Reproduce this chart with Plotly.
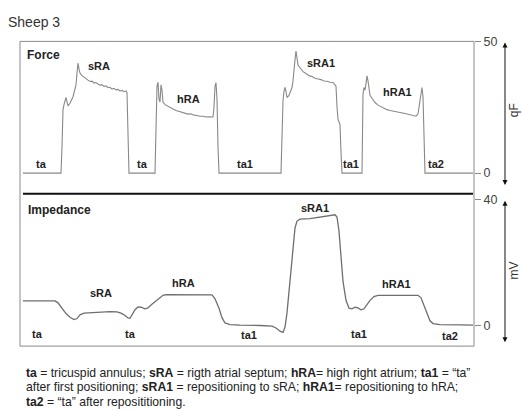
import plotly.graph_objects as go

W, H = 522, 411

# ---------------- data (time in arbitrary units) ----------------
force_time = [3, 41, 42, 43, 44, 46, 48, 50, 53, 55, 56, 57, 58, 59, 60, 62, 65, 68, 70, 72, 74, 76, 78, 80,
              82, 84, 86, 88, 90, 92, 94, 96, 98, 100, 102, 104, 106, 107, 108, 109,
              135, 136, 137, 138, 139, 140, 141, 142, 143, 145, 148, 150, 153, 156, 159, 162, 165, 168, 171,
              174, 177, 180, 183, 186, 189, 192, 193, 194, 195, 196, 197, 198, 199,
              261, 262, 263, 264, 265, 266, 267, 269, 271, 272, 273, 274, 275, 276, 277, 278, 280, 283, 286,
              289, 292, 295, 298, 301, 304, 307, 310, 313, 315, 316, 317, 318, 319, 320, 321, 322,
              342, 343, 344, 345, 346, 347, 348, 349, 350, 352, 355, 358, 361, 364, 367, 370, 373, 376, 380,
              384, 388, 392, 396, 398, 400, 401, 402, 403, 404, 405, 453]
force_qF = [0, 0, 10, 24, 26, 28.7, 25.5, 26.5, 29, 32, 33.5, 38, 41.8, 39.5, 38, 37, 36, 35.3, 34.8, 34.9,
            34.2, 34.4, 33.8, 33.4, 33.6, 32.9, 33.1, 32.4, 32.6, 31.9, 32.2, 31.6, 31.8, 31.2, 31.4, 30.9,
            31.2, 30.6, 15, 0,
            0, 14, 33, 34.5, 28, 27, 33.5, 31.5, 27, 26, 25.3, 24.8, 24.3, 23.8, 23.5, 23.0, 22.9, 22.4,
            22.5, 22.0, 21.9, 21.6, 21.6, 21.3, 21.4, 21.2, 21.3, 25, 33, 34.3, 28, 10, 0,
            0, 15, 27.5, 31, 32.5, 31, 28.7, 29.5, 31.5, 32.5, 35, 38, 43, 46.3, 43, 41, 40, 38.5, 37.8,
            37.0, 36.7, 36.0, 35.7, 35.5, 35.0, 34.9, 34.5, 34.4, 33.5, 33.0, 25, 20.5, 19.5, 18.3, 8, 0,
            0, 30, 32.5, 31.5, 34, 36.9, 35, 31.5, 29.5, 28.4, 26.8, 25.8, 25.2, 24.6, 24.1, 23.8, 23.5,
            23.3, 23.0, 22.7, 22.4, 22.0, 21.6, 22.5, 28, 31, 32.5, 29, 18, 0, 0]

imp_time = [3, 35, 38, 42, 46, 50, 54, 57, 60, 64, 70, 80, 90, 97, 101, 105, 108, 110, 112, 115, 118,
            121, 125, 128, 131, 135, 139, 143, 146, 160, 180, 192, 195, 199, 202, 205, 210, 220, 240,
            252, 256, 260, 263, 265, 267, 269, 271, 273, 275, 277, 280, 290, 300, 310, 315, 317, 319,
            321, 323, 326, 329, 332, 335, 338, 341, 344, 347, 350, 354, 358, 370, 385, 398, 401, 404,
            407, 410, 413, 420, 440, 453]
imp_mV = [7.8, 7.8, 7.2, 5.5, 3.8, 2.6, 1.9, 2.2, 3.4, 3.9, 4.0, 4.3, 4.4, 4.3, 3.9, 3.2, 2.4, 2.3, 3.5,
          5.0, 5.9, 5.8, 5.3, 5.6, 6.5, 7.6, 8.8, 9.6, 9.8, 9.8, 9.8, 9.7, 8.5, 5.5, 2.5, 0.8, 0.3, 0.1,
          0.0, -0.2, -0.8, -1.8, -2.2, -0.5, 4, 11, 19, 26, 31, 33.2, 33.8, 34.0, 34.4, 34.9, 35.2, 34.5,
          30, 22, 14, 8, 5.5, 5.3, 5.8, 5.6, 5.0, 5.3, 6.5, 8.0, 9.2, 9.6, 9.6, 9.6, 9.6, 8.8, 6.5, 3.8,
          1.5, 0.6, 0.3, 0.2, 0.1]

force_ticks = [0, 50]
imp_ticks = [0, 40]

force_labels = ["sRA", "hRA", "sRA1", "hRA1", "ta", "ta", "ta1", "ta1", "ta2"]
imp_labels = ["sRA", "hRA", "sRA1", "hRA1", "ta", "ta", "ta1", "ta1", "ta2"]

caption = [
    "<b>ta</b> = tricuspid annulus; <b>sRA</b> = rigth atrial septum; <b>hRA</b>= high right atrium; <b>ta1</b> = \u201cta\u201d",
    "after first positioning; <b>sRA1</b> = repositioning to sRA; <b>hRA1</b>= repositioning to hRA;",
    "<b>ta2</b> = \u201cta\u201d after reposititioning.",
]

# ---------------- layout helpers ----------------
def px(x):
    return x / W


def py(y):
    return 1 - y / H


FONT = "Liberation Sans, Arial, sans-serif"
LINE = "#8a8a8a"

fig = go.Figure()
fig.add_trace(go.Scatter(x=force_time, y=force_qF, mode="lines",
                         line=dict(color="#888888", width=1.1), xaxis="x", yaxis="y",
                         hoverinfo="skip", showlegend=False))
fig.add_trace(go.Scatter(x=imp_time, y=imp_mV, mode="lines",
                         line=dict(color="#6e6e6e", width=1.3), xaxis="x", yaxis="y2",
                         hoverinfo="skip", showlegend=False))

# Force axis: 0 at y=169px, 50 at y=35px  (2.68 px/unit), domain 35..185 px
f_lo = 0 - (185 - 169) / 2.68
# Impedance axis: 0 at 324px, 40 at 196px (3.2 px/unit), domain 192..345 px
i_lo = 0 - (345 - 324) / 3.2
i_hi = 40 + (196 - 192) / 3.2

axis_common = dict(side="right", anchor="x", showgrid=False, zeroline=False, showline=False,
                   ticks="outside", ticklen=6, tickcolor=LINE, tickwidth=1,
                   tickfont=dict(family=FONT, size=12.5, color="#444"), fixedrange=True)

fig.update_layout(
    width=W, height=H, margin=dict(l=0, r=0, t=0, b=0),
    paper_bgcolor="white", plot_bgcolor="rgba(0,0,0,0)",
    xaxis=dict(domain=[px(20), px(474)], range=[0, 454], visible=False, fixedrange=True),
    yaxis=dict(domain=[py(185), py(35)], range=[f_lo, 50], tickvals=force_ticks, **axis_common),
    yaxis2=dict(domain=[py(345), py(192)], range=[i_lo, i_hi], tickvals=imp_ticks, **axis_common),
)

shapes = [
    dict(type="rect", xref="paper", yref="paper", x0=px(20), x1=px(474), y0=py(345), y1=py(35),
         line=dict(color=LINE, width=1)),
    dict(type="line", xref="paper", yref="paper", x0=px(23), x1=px(473), y0=py(190), y1=py(190),
         line=dict(color="#111", width=2.2)),
]
fig.update_layout(shapes=shapes)

ann = []


def label(text, x, y, size=11, bold=True, xanchor="center", color="#222", textangle=0):
    ann.append(dict(text=f"<b>{text}</b>" if bold else text, xref="paper", yref="paper",
                    x=px(x), y=py(y), xanchor=xanchor, yanchor="middle", showarrow=False,
                    textangle=textangle, font=dict(family=FONT, size=size, color=color)))


label("Sheep 3", 6, 15, size=14, bold=False, xanchor="left", color="#333")
label("Force", 25, 49, size=12, xanchor="left")
label("Impedance", 26, 207, size=12, xanchor="left")

fpos = [(99, 60), (188, 94), (321, 57), (397, 86), (41, 160), (142, 160), (245, 160), (351, 160), (436, 160)]
for t, (x, y) in zip(force_labels, fpos):
    label(t, x, y)
ipos = [(101, 291), (183, 281), (315, 204), (396, 282), (37, 333), (130, 333), (249, 334), (359, 333), (450, 335)]
for t, (x, y) in zip(imp_labels, ipos):
    label(t, x, y)

label("qF", 514, 105, size=12, bold=False, textangle=-90, color="#333")
label("mV", 514, 268, size=12, bold=False, textangle=-90, color="#333")

# double-headed arrows
for y0, y1 in [(37, 181), (198, 341)]:
    ann.append(dict(xref="paper", yref="paper", x=px(505), y=py(y1), ax=0, ay=-(y1 - y0),
                    axref="pixel", ayref="pixel", text="", showarrow=True,
                    arrowhead=2, startarrowhead=2, arrowside="end+start",
                    arrowsize=1, startarrowsize=1, arrowwidth=1, arrowcolor="#111"))

for i, line in enumerate(caption):
    label(line, 24, 372 + i * 15, size=12.2, bold=False, xanchor="left", color="#222")

fig.update_layout(annotations=ann)
fig.write_html("out.html", config={"displayModeBar": False},
               post_script="document.body.style.margin='0';document.body.style.padding='0';"
                           "document.body.style.overflow='hidden';")
